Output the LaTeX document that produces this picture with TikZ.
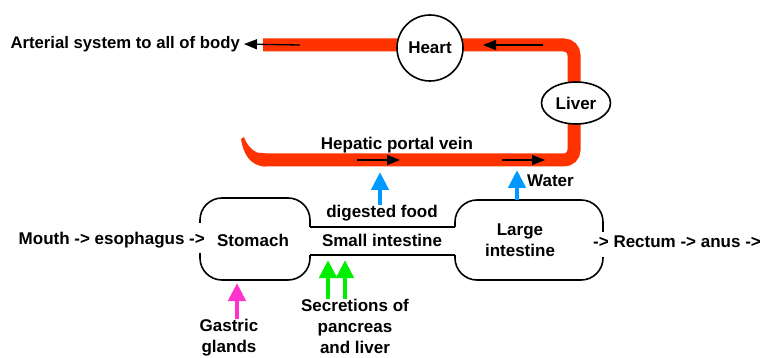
\documentclass[tikz,border=0pt]{standalone}
\usepackage{fontspec}
\setmainfont{Liberation Sans}
\usepackage{xcolor}
\usetikzlibrary{arrows.meta, shapes.geometric}

\definecolor{vein}{HTML}{FF3300}
\definecolor{absorb}{HTML}{0099FF}
\definecolor{gastric}{HTML}{FF33CC}
\definecolor{secrete}{HTML}{00EE00}

\begin{document}
\begin{tikzpicture}[x=1pt, y=-1pt,
        every node/.style={font=\fontsize{17}{21}\selectfont\bfseries, inner sep=0pt, align=center},
        organ/.style={draw, line width=1.6pt, fill=white},
        band/.style={vein, line width=13pt},
        flow/.style={-{Triangle[length=13pt,width=10pt]}, line width=1.3pt},
        feed/.style={-{Triangle[length=18pt,width=17pt]}, line width=4.5pt},
        wall/.style={line width=1.6pt}]
        \useasboundingbox (0,0) rectangle (763,358);

        % blood vessels
        \draw[band, rounded corners=10] (263,45) -- (574,45) -- (574,160) -- (263,160);
        \fill[vein] (266,153.5) -- (257,152.5) .. controls (250,149) and (246,143) .. (244,137)
                -- (241,139) .. controls (243,153) and (250,166.5) .. (266,166.5) -- cycle;

        \node[organ, circle, minimum size=66pt] (heart) at (430,48) {Heart};
        \node[organ, ellipse, minimum width=69pt, minimum height=42pt] (liver) at (576,103) {Liver};

        \node[anchor=east, font=\fontsize{16.7}{21}\selectfont\bfseries] (body) at (240,44) {Arterial system to all of body};
        \node (hpv) at (397,145) {Hepatic portal vein};

        \coordinate (a1) at (300,45);
        \coordinate (t1) at (543,45);
        \coordinate (t2) at (483,45);
        \coordinate (b1) at (357,160);
        \coordinate (b2) at (400,160);
        \coordinate (b3) at (502,160);
        \coordinate (b4) at (545,160);

        \draw[flow, shorten >=4pt] (a1) -- (body.east);
        \draw[flow] (t1) -- (t2);
        \draw[flow] (b1) -- (b2);
        \draw[flow] (b3) -- (b4);

        % gut
        \draw[wall, rounded corners=22] (200,223) -- (200,198) -- (310,198) -- (310,227);
        \draw[wall, rounded corners=22] (200,253) -- (200,280) -- (310,280) -- (310,255);
        \draw[wall] (310,227) -- (455,227);
        \draw[wall] (310,255) -- (455,255);
        \draw[wall, rounded corners=22] (455,227) -- (455,200) -- (603,200) -- (603,232);
        \draw[wall, rounded corners=22] (455,255) -- (455,280) -- (603,280) -- (603,257);

        \node[anchor=east] (mouth) at (205,240) {Mouth -> esophagus ->};
        \node (stomach) at (253,240) {Stomach};
        \node (small) at (382,240) {Small intestine};
        \node (food) at (382,213) {digested food};
        \node (large) at (520,240) {Large\\intestine};
        \node[anchor=west] (rectum) at (593,242) {-> Rectum -> anus ->};
        \node[anchor=west] (water) at (527,181) {Water};
        \node (glands) at (229,338) {Gastric\\glands};
        \node (secr) at (355,326) {Secretions of\\pancreas\\and liver};

        \coordinate (v1) at (380,172);
        \coordinate (v2) at (517,170);
        \coordinate (lt) at (517,200);
        \coordinate (g1) at (237,283);
        \coordinate (s1) at (328,260);
        \coordinate (s2) at (345,260);

        \draw[feed, absorb] (v1 |- food.north) -- (v1);
        \draw[feed, absorb] (lt) -- (v2);
        \draw[feed, gastric] (g1 |- glands.north) -- (g1);
        \draw[feed, secrete] (s1 |- secr.north) -- (s1);
        \draw[feed, secrete] (s2 |- secr.north) -- (s2);
\end{tikzpicture}
\end{document}
